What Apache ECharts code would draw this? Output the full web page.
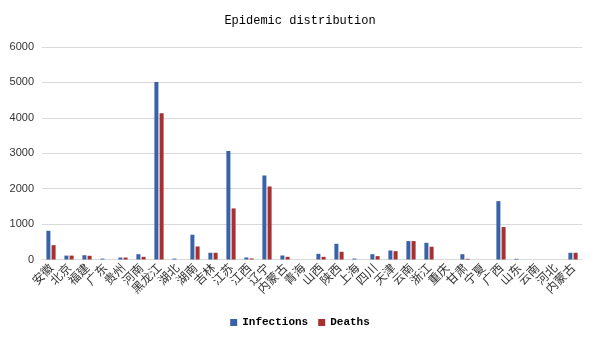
<!DOCTYPE html>
<html><head><meta charset="utf-8">
<script src="https://cdn.jsdelivr.net/npm/echarts@6/dist/echarts.min.js"></script>
<style>html,body{margin:0;padding:0;background:#fff}#c{width:600px;height:340px}</style>
</head><body><div id="c"></div>
<script>
var categories = ['安徽','北京','福建','广东','贵州','河南','黑龙江','湖北','湖南','吉林','江苏','江西','辽宁','内蒙古','青海','山西','陕西','上海','四川','天津','云南','浙江','重庆','甘肃','宁夏','广西','山东','云南','河北','内蒙古'];
var infections = [810, 110, 120, 25, 55, 150, 5010, 25, 700, 190, 3065, 57, 2372, 113, 0, 160, 444, 25, 150, 255, 520, 472, 0, 150, 0, 1648, 20, 0, 0, 190];
var deaths = [405, 110, 105, 0, 55, 75, 4127, 0, 368, 190, 1442, 30, 2062, 75, 0, 75, 218, 0, 95, 235, 520, 360, 0, 20, 0, 915, 0, 0, 0, 190];
var yTicks = [0, 1000, 2000, 3000, 4000, 5000, 6000];

var chart = echarts.init(document.getElementById('c'), null, {renderer: 'canvas'});
chart.setOption({
  animation: false,
  title: {text: 'Epidemic distribution', left: 'center', top: 10,
    textStyle: {fontFamily: 'Liberation Mono', fontSize: 12, fontWeight: 'normal', color: '#000'}},
  legend: {bottom: 7, left: 'center', itemWidth: 7, itemHeight: 7, itemGap: 10,
    icon: 'rect',
    textStyle: {fontFamily: 'Liberation Mono', fontSize: 11, fontWeight: 'bold', color: '#000'},
    data: ['Infections', 'Deaths']},
  grid: {left: 42, right: 18, top: 47, height: 212.5, containLabel: false},
  xAxis: {type: 'category', data: categories,
    axisLine: {lineStyle: {color: '#d9d9d9'}},
    axisTick: {show: false},
    axisLabel: {interval: 0, rotate: 45, fontSize: 12, color: '#333', margin: 6,
      fontFamily: 'Noto Sans CJK SC'}},
  yAxis: {type: 'value', min: yTicks[0], max: yTicks[yTicks.length-1], interval: 1000,
    axisLine: {show: false}, axisTick: {show: false},
    axisLabel: {fontSize: 11, color: '#333', margin: 8, fontFamily: 'Liberation Sans',
      formatter: function (v) { return String(v); }},
    splitLine: {lineStyle: {color: '#d9d9d9'}}},
  series: [
    {name: 'Infections', type: 'bar', data: infections, barWidth: 4, barGap: '30%',
      itemStyle: {color: '#3a62a6'}},
    {name: 'Deaths', type: 'bar', data: deaths, barWidth: 4,
      itemStyle: {color: '#a8302f'}}
  ]
});
</script></body></html>
